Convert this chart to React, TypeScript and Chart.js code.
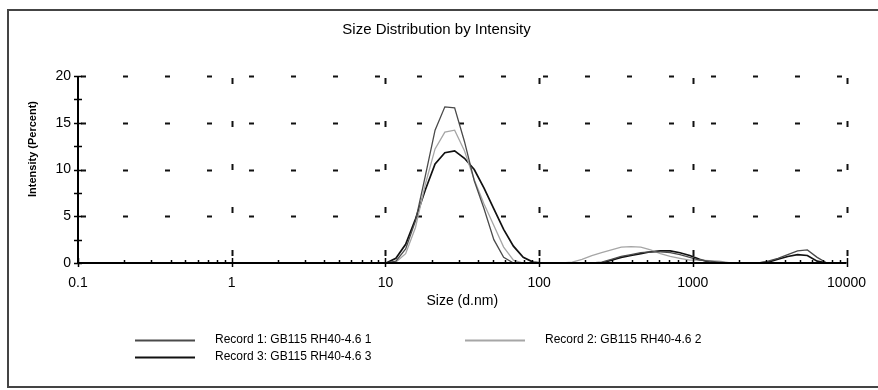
import React, { useEffect, useRef } from 'react';
import { Chart, registerables } from 'chart.js';

Chart.register(...registerables);

// Size bins (d.nm)
const sizes = [
  0.4, 0.4632, 0.5365, 0.6213, 0.7195, 0.8332, 0.9649, 1.117, 1.294, 1.499,
  1.736, 2.01, 2.328, 2.696, 3.122, 3.615, 4.187, 4.849, 5.615, 6.503,
  7.531, 8.721, 10.1, 11.7, 13.54, 15.69, 18.17, 21.04, 24.36, 28.21,
  32.67, 37.84, 43.82, 50.75, 58.77, 68.06, 78.82, 91.28, 105.7, 122.4,
  141.8, 164.2, 190.1, 220.2, 255.0, 295.3, 342.0, 396.1, 458.7, 531.2,
  615.1, 712.4, 825.0, 955.4, 1106, 1281, 1484, 1718, 1990, 2305,
  2669, 3091, 3580, 4145, 4801, 5560, 6439, 7456, 8635, 10000,
];

// Intensity (Percent)
const record1 = [
  0, 0, 0, 0, 0, 0, 0, 0, 0, 0,
  0, 0, 0, 0, 0, 0, 0, 0, 0, 0,
  0, 0, 0, 0.2, 1.5, 4.5, 9.3, 14.2, 16.7, 16.6,
  13.0, 8.8, 5.8, 2.5, 0.6, 0, 0, 0, 0, 0,
  0, 0, 0, 0, 0.1, 0.4, 0.7, 0.9, 1.1, 1.2,
  1.2, 1.1, 0.9, 0.6, 0.3, 0.2, 0.1, 0, 0, 0,
  0, 0.2, 0.5, 0.9, 1.3, 1.4, 0.6, 0, 0, 0,
];
const record2 = [
  0, 0, 0, 0, 0, 0, 0, 0, 0, 0,
  0, 0, 0, 0, 0, 0, 0, 0, 0, 0,
  0, 0, 0, 0.1, 1.0, 3.8, 8.4, 12.2, 14.0, 14.2,
  12.0, 8.9, 6.3, 4.0, 1.7, 0.3, 0, 0, 0, 0,
  0, 0.1, 0.4, 0.8, 1.1, 1.4, 1.7, 1.75, 1.7, 1.4,
  1.0, 0.7, 0.5, 0.3, 0.3, 0.25, 0.2, 0.05, 0, 0,
  0, 0, 0, 0, 0, 0, 0, 0, 0, 0,
];
const record3 = [
  0, 0, 0, 0, 0, 0, 0, 0, 0, 0,
  0, 0, 0, 0, 0, 0, 0, 0, 0, 0,
  0, 0, 0, 0.5, 2.0, 4.7, 7.8, 10.6, 11.8, 12.0,
  11.2, 10.0, 8.0, 5.8, 3.6, 1.8, 0.6, 0.1, 0, 0,
  0, 0, 0, 0, 0, 0.3, 0.6, 0.8, 1.0, 1.2,
  1.3, 1.3, 1.1, 0.8, 0.4, 0.1, 0, 0, 0, 0,
  0, 0.1, 0.4, 0.7, 0.9, 0.8, 0.2, 0, 0, 0,
];

const seriesLabels = [
  'Record 1: GB115 RH40-4.6 1',
  'Record 2: GB115 RH40-4.6 2',
  'Record 3: GB115 RH40-4.6 3',
];
const seriesColors = ['#4a4a4a', '#a6a6a6', '#111111'];
const seriesWidths = [1.3, 1.3, 1.7];

const xDecades = [0.1, 1, 10, 100, 1000, 10000];
const yTickValues = [0, 5, 10, 15, 20];
const yMinorStep = 2.5;

const chartTitle = 'Size Distribution by Intensity';
const xTitle = 'Size (d.nm)';
const yTitle = 'Intensity (Percent)';

const FONT = "'Liberation Sans', Arial, sans-serif";

const framePlugin = {
  id: 'frame',
  beforeDraw(chart: any) {
    const { ctx, width } = chart;
    ctx.save();
    ctx.fillStyle = '#ffffff';
    ctx.fillRect(0, 0, chart.width, chart.height);
    ctx.strokeStyle = '#444';
    ctx.lineWidth = 2;
    ctx.beginPath();
    ctx.moveTo(width, 10);
    ctx.lineTo(8, 10);
    ctx.lineTo(8, 387);
    ctx.lineTo(width, 387);
    ctx.stroke();
    ctx.restore();
  },
};

const axesPlugin = {
  id: 'axesDeco',
  beforeDatasetsDraw(chart: any) {
    const { ctx, chartArea } = chart;
    const { left, right, top, bottom } = chartArea;
    const xs = chart.scales.x;
    const ys = chart.scales.y;
    ctx.save();
    ctx.strokeStyle = '#111';
    ctx.lineWidth = 2;
    // dashed horizontal grid
    ctx.setLineDash([5, 37]);
    ctx.lineDashOffset = -3;
    yTickValues.forEach((v) => {
      if (v === 0) return;
      const y = Math.round(ys.getPixelForValue(v)) + 0.5;
      ctx.beginPath();
      ctx.moveTo(left, y);
      ctx.lineTo(right, y);
      ctx.stroke();
    });
    // dashed vertical grid at decades
    ctx.setLineDash([6, 37]);
    ctx.lineDashOffset = -2;
    xDecades.forEach((v, i) => {
      if (i === 0) return;
      const x = Math.round(xs.getPixelForValue(v)) + 0.5;
      ctx.beginPath();
      ctx.moveTo(x, top);
      ctx.lineTo(x, bottom);
      ctx.stroke();
    });
    ctx.restore();
  },
  afterDatasetsDraw(chart: any) {
    const { ctx, chartArea } = chart;
    const { left, right, top, bottom } = chartArea;
    const xs = chart.scales.x;
    const ys = chart.scales.y;
    ctx.save();
    ctx.strokeStyle = '#000';
    ctx.lineWidth = 2;
    ctx.beginPath();
    ctx.moveTo(left, top);
    ctx.lineTo(left, bottom);
    ctx.lineTo(right, bottom);
    ctx.stroke();
    // y minor ticks crossing the axis
    ctx.lineWidth = 1.5;
    for (let v = 0; v <= 20 + 1e-9; v += yMinorStep) {
      const y = Math.round(ys.getPixelForValue(v)) + 0.5;
      ctx.beginPath();
      ctx.moveTo(left - 4, y);
      ctx.lineTo(left + 4, y);
      ctx.stroke();
    }
    // x minor ticks
    for (let d = 0; d < xDecades.length - 1; d++) {
      for (let m = 1; m <= 9; m++) {
        const v = xDecades[d] * m;
        const x = Math.round(xs.getPixelForValue(v)) + 0.5;
        ctx.beginPath();
        if (m === 1) {
          ctx.moveTo(x, bottom + 4);
          ctx.lineTo(x, bottom - 5);
        } else {
          ctx.moveTo(x, bottom);
          ctx.lineTo(x, bottom - 3);
        }
        ctx.stroke();
      }
    }
    const xe = Math.round(xs.getPixelForValue(xDecades[xDecades.length - 1])) + 0.5;
    ctx.beginPath();
    ctx.moveTo(xe, bottom + 4);
    ctx.lineTo(xe, bottom - 5);
    ctx.stroke();

    // y axis title
    ctx.fillStyle = '#000';
    ctx.font = `bold 11px ${FONT}`;
    ctx.textAlign = 'center';
    ctx.textBaseline = 'middle';
    ctx.translate(33, 149);
    ctx.rotate(-Math.PI / 2);
    ctx.fillText(yTitle, 0, 0);
    ctx.restore();
  },
  afterDraw(chart: any) {
    const { ctx } = chart;
    ctx.save();
    ctx.font = `12px ${FONT}`;
    ctx.textAlign = 'left';
    ctx.textBaseline = 'middle';
    const cols = [135, 465];
    const rows = [340, 357];
    chart.data.datasets.forEach((ds: any, i: number) => {
      const x0 = cols[i % 2];
      const y = rows[Math.floor(i / 2)];
      ctx.strokeStyle = ds.borderColor;
      ctx.lineWidth = ds.borderWidth + 0.5;
      ctx.beginPath();
      ctx.moveTo(x0, y + 0.5);
      ctx.lineTo(x0 + 60, y + 0.5);
      ctx.stroke();
      ctx.fillStyle = '#000';
      ctx.fillText(ds.label, x0 + 80, y);
    });
    ctx.restore();
  },
};

export default function App() {
  const canvasRef = useRef<HTMLCanvasElement | null>(null);

  useEffect(() => {
    if (!canvasRef.current) return;
    const datasets = [record1, record2, record3].map((vals, i) => ({
      label: seriesLabels[i],
      data: sizes.map((s, j) => ({ x: s, y: vals[j] })),
      borderColor: seriesColors[i],
      backgroundColor: seriesColors[i],
      borderWidth: seriesWidths[i],
      pointRadius: 0,
      tension: 0,
      fill: false,
    }));
    const chart = new Chart(canvasRef.current, {
      type: 'line',
      data: { datasets },
      options: {
        responsive: false,
        animation: false,
        devicePixelRatio: 1,
        layout: { padding: { left: 20, right: 25, top: 0, bottom: 77 } },
        plugins: {
          legend: { display: false },
          tooltip: { enabled: false },
          title: {
            display: true,
            text: chartTitle,
            color: '#000',
            font: { family: FONT, size: 15, weight: 'normal' },
            padding: { top: 21, bottom: 37 },
          },
        },
        scales: {
          x: {
            type: 'logarithmic',
            min: 0.1,
            max: 10000,
            grid: { display: false, drawTicks: false },
            border: { display: false },
            afterBuildTicks: (scale: any) => {
              scale.ticks = xDecades.map((v) => ({ value: v, major: true }));
            },
            afterFit: (scale: any) => {
              scale.height = 50;
            },
            ticks: {
              autoSkip: false,
              maxRotation: 0,
              padding: 12,
              color: '#000',
              font: { family: FONT, size: 14 },
              callback: (v: any) => String(v),
            },
            title: {
              display: true,
              text: xTitle,
              color: '#000',
              font: { family: FONT, size: 14 },
              padding: { top: 0, bottom: 3 },
            },
          },
          y: {
            type: 'linear',
            min: 0,
            max: 20,
            grid: { display: false, drawTicks: false },
            border: { display: false },
            afterFit: (scale: any) => {
              scale.width = 58;
            },
            ticks: {
              stepSize: 5,
              padding: 7,
              color: '#000',
              font: { family: FONT, size: 14 },
            },
          },
        },
      },
      plugins: [framePlugin, axesPlugin],
    });
    return () => chart.destroy();
  }, []);

  return (
    <div style={{ position: 'fixed', left: 0, top: 0, width: 878, height: 390, background: '#fff' }}>
      <canvas ref={canvasRef} width={878} height={390} />
    </div>
  );
}
